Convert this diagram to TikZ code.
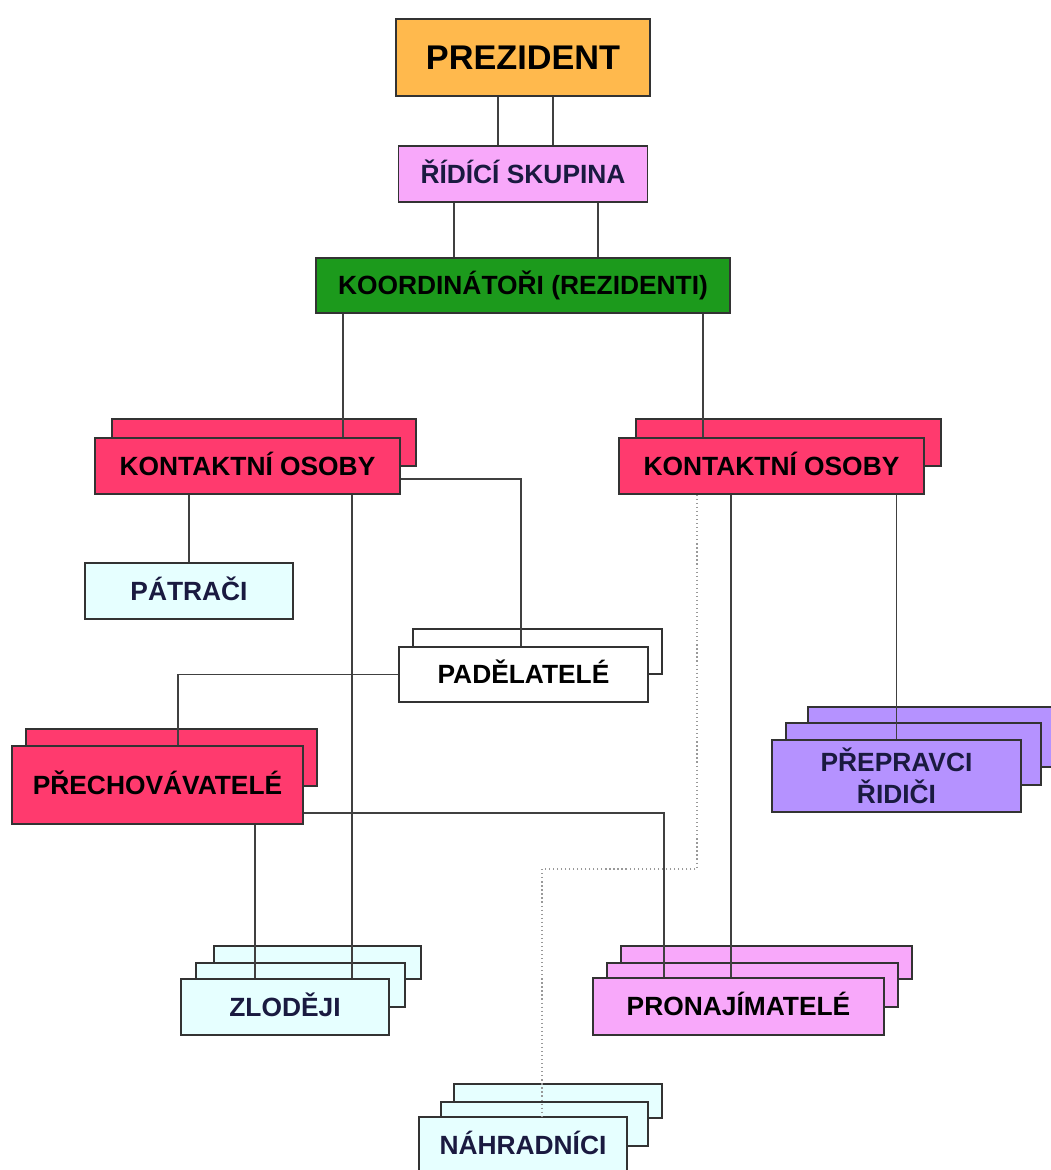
\documentclass[tikz,border=0pt]{standalone}
\usepackage{fontspec}
\setmainfont{Liberation Sans}
\usepackage{xcolor}
\usepackage{tikz}

\definecolor{prezOrange}{HTML}{FFB94D}
\definecolor{lilac}{HTML}{F8A8FA}
\definecolor{coordGreen}{HTML}{1C9A1C}
\definecolor{contactRed}{HTML}{FF3A6E}
\definecolor{paleCyan}{HTML}{E6FFFF}
\definecolor{driverViolet}{HTML}{B592FF}
\definecolor{inkNavy}{HTML}{1A1A40}

\begin{document}
\begin{tikzpicture}[
    x=0.02cm, y=-0.02cm,
    every node/.style={font=\bfseries\fontsize{15}{18}\selectfont},
    box/.style={draw=black!80, line width=0.9pt, align=center, inner sep=0pt},
    oneline/.style={text height=10.7pt, text depth=0pt},
    back/.style={draw=black!80, line width=0.9pt},
    link/.style={draw=black!75, line width=1pt},
    dotlink/.style={draw=black!40, line width=0.7pt, dash pattern=on 0.7pt off 1.6pt}
]
\useasboundingbox (0,0) rectangle (1051,1170);

% stacked layers behind the front boxes
\draw[back, fill=contactRed] (112,419) rectangle (416,466);
\draw[back, fill=contactRed] (636,419) rectangle (941,466);
\draw[back, fill=white] (413,629) rectangle (662,674);
\draw[back, fill=contactRed] (26,729) rectangle (317,786);
\draw[back, fill=paleCyan] (214,946) rectangle (421,979);
\draw[back, fill=paleCyan] (196,963) rectangle (405,1007);
\draw[back, fill=lilac] (621,946) rectangle (912,979);
\draw[back, fill=lilac] (607,963) rectangle (898,1007);
\draw[back, fill=paleCyan] (454,1084) rectangle (662,1118);
\draw[back, fill=paleCyan] (441,1102) rectangle (648,1146);
\draw[back, fill=driverViolet] (808,707) rectangle (1057,767);
\draw[back, fill=driverViolet] (786,723) rectangle (1041,785);

\node[box, fill=prezOrange, minimum width=5.08cm, minimum height=1.54cm, text height=14pt, text depth=0pt,
      font=\bfseries\fontsize{19.5}{22}\selectfont] (prez) at (523,57.5) {PREZIDENT};
\node[box, oneline, fill=lilac, text=inkNavy, minimum width=4.98cm, minimum height=1.12cm] (ridici) at (523,174) {ŘÍDÍCÍ SKUPINA};
\node[box, oneline, fill=coordGreen, minimum width=8.28cm, minimum height=1.1cm] (koord) at (523,285.5) {KOORDINÁTOŘI (REZIDENTI)};
\node[box, oneline, fill=contactRed, minimum width=6.1cm, minimum height=1.12cm] (kontaktL) at (247.5,466) {KONTAKTNÍ OSOBY};
\node[box, oneline, fill=contactRed, minimum width=6.1cm, minimum height=1.12cm] (kontaktR) at (771.5,466) {KONTAKTNÍ OSOBY};
\node[box, oneline, fill=paleCyan, text=inkNavy, minimum width=4.16cm, minimum height=1.12cm] (patraci) at (189,591) {PÁTRAČI};
\node[box, oneline, fill=white, minimum width=4.98cm, minimum height=1.1cm] (padel) at (523.5,674.5) {PADĚLATELÉ};
\node[box, oneline, fill=contactRed, minimum width=5.82cm, minimum height=1.56cm] (prech) at (157.5,785) {PŘECHOVÁVATELÉ};
\node[box, fill=driverViolet, text=inkNavy, minimum width=4.98cm, minimum height=1.44cm] (prepr) at (896.5,776) {PŘEPRAVCI\\ŘIDIČI};
\node[box, oneline, fill=paleCyan, text=inkNavy, minimum width=4.16cm, minimum height=1.12cm] (zlodeji) at (285,1007) {ZLODĚJI};
\node[box, oneline, fill=lilac, minimum width=5.82cm, minimum height=1.14cm] (pronaj) at (738.5,1006.5) {PRONAJÍMATELÉ};
\node[box, oneline, fill=paleCyan, text=inkNavy, minimum width=4.16cm, minimum height=1.12cm] (nahrad) at (523,1145) {NÁHRADNÍCI};

\coordinate (bend) at (542,869);

\draw[link] (prez.south -| 498,0) -- (ridici.north -| 498,0);
\draw[link] (prez.south -| 553,0) -- (ridici.north -| 553,0);
\draw[link] (ridici.south -| 454,0) -- (koord.north -| 454,0);
\draw[link] (ridici.south -| 598,0) -- (koord.north -| 598,0);
\draw[link] (koord.south -| 343,0) -- (kontaktL.north -| 343,0);
\draw[link] (koord.south -| 703,0) -- (kontaktR.north -| 703,0);
\draw[link] (kontaktL.south -| patraci.north) -- (patraci.north);
\draw[link] (kontaktL.south -| 352,0) -- (zlodeji.north -| 352,0);
\draw[link] (kontaktL.east |- 0,479) -| (padel.north -| 521,0);
\draw[link] (padel.west) -| (prech.north -| 178,0);
\draw[link] (prech.east |- 0,813) -| (pronaj.north -| 664,0);
\draw[link] (prech.south -| 255,0) -- (zlodeji.north -| 255,0);
\draw[link] (kontaktR.south -| 731,0) -- (pronaj.north -| 731,0);
\draw[link] (kontaktR.south -| prepr.north) -- (prepr.north);
\draw[dotlink] (kontaktR.south -| 697,0) |- (bend) -- (nahrad.north -| bend);

\end{tikzpicture}
\end{document}
